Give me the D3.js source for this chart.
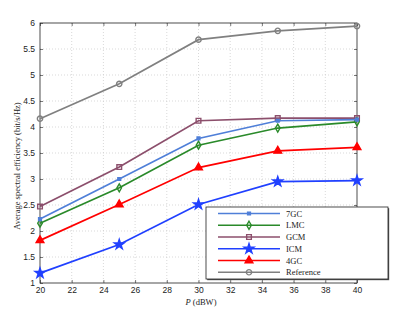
<!DOCTYPE html>
<html>
<head>
<meta charset="utf-8">
<script src="https://cdn.jsdelivr.net/npm/d3@7"></script>
<style>
  body { margin: 0; background: #fff; }
  svg { display: block; }
  .tick text { font-family: "Liberation Sans", Arial, sans-serif; font-size: 8.5px; fill: #222; }
  .serif { font-family: "Liberation Serif", "DejaVu Serif", serif; }
</style>
</head>
<body>
<svg id="chart" width="399" height="319"></svg>
<script>
const power = [20, 25, 30, 35, 40];
const xTicks = [20, 22, 24, 26, 28, 30, 32, 34, 36, 38, 40];
const yTicks = [1, 1.5, 2, 2.5, 3, 3.5, 4, 4.5, 5, 5.5, 6];

const names = ["7GC", "LMC", "GCM", "ICM", "4GC", "Reference"];
const val7GC = [2.23, 3.0, 3.78, 4.12, 4.14];
const valLMC = [2.15, 2.83, 3.65, 3.98, 4.10];
const valGCM = [2.47, 3.23, 4.12, 4.17, 4.17];
const valICM = [1.19, 1.74, 2.51, 2.95, 2.97];
const val4GC = [1.82, 2.51, 3.22, 3.54, 3.61];
const valRef = [4.16, 4.83, 5.68, 5.85, 5.94];

const colors = ["#4f7fd8", "#2a8a2a", "#8c4f6c", "#2040ff", "#ff0000", "#808080"];
const markers = ["smallsquare", "diamond", "square", "star", "triangle", "circle"];

const series = [val7GC, valLMC, valGCM, valICM, val4GC, valRef].map((v, i) => ({
    name: names[i], values: v, color: colors[i], marker: markers[i]
}));

const svg = d3.select("#chart");
const mLeft = 40, mRight = 357, mTop = 23, mBottom = 283;

const x = d3.scaleLinear().domain([20, 40]).range([mLeft, mRight]);
const y = d3.scaleLinear().domain([1, 6]).range([mBottom, mTop]);

// grid
const grid = svg.append("g");
grid.selectAll(".gx").data(xTicks.slice(1, -1)).join("line")
    .attr("x1", d => x(d)).attr("x2", d => x(d))
    .attr("y1", mTop).attr("y2", mBottom)
    .attr("stroke", "#c8c8c8").attr("stroke-width", 0.7).attr("stroke-dasharray", "1,2");
grid.selectAll(".gy").data(yTicks.slice(1, -1)).join("line")
    .attr("x1", mLeft).attr("x2", mRight)
    .attr("y1", d => y(d)).attr("y2", d => y(d))
    .attr("stroke", "#c8c8c8").attr("stroke-width", 0.7).attr("stroke-dasharray", "1,2");

// axes with inside ticks
svg.append("g").attr("transform", `translate(0,${mBottom})`)
    .call(d3.axisBottom(x).tickValues(xTicks).tickSize(-3).tickPadding(4).tickFormat(d3.format("d")));
svg.append("g").attr("transform", `translate(${mLeft},0)`)
    .call(d3.axisLeft(y).tickValues(yTicks).tickSize(-3).tickPadding(5).tickFormat(d => d));
svg.append("g").attr("transform", `translate(0,${mTop})`)
    .call(d3.axisTop(x).tickValues(xTicks).tickSize(-3).tickFormat(""));
svg.append("g").attr("transform", `translate(${mRight},0)`)
    .call(d3.axisRight(y).tickValues(yTicks).tickSize(-3).tickFormat(""));
svg.selectAll(".domain").remove();
svg.selectAll(".tick line").attr("stroke", "#222").attr("stroke-width", 0.6);

svg.append("rect")
    .attr("x", mLeft).attr("y", mTop)
    .attr("width", mRight - mLeft).attr("height", mBottom - mTop)
    .attr("fill", "none").attr("stroke", "#222").attr("stroke-width", 0.8);

function markerPath(type) {
    switch (type) {
        case "smallsquare": return d3.symbol(d3.symbolSquare, 8)();
        case "square": return d3.symbol(d3.symbolSquare, 22)();
        case "diamond": return "M0,-4L2.3,0L0,4L-2.3,0Z";
        case "star": return d3.symbol(d3.symbolStar, 30)();
        case "triangle": return d3.symbol(d3.symbolTriangle, 26)();
        case "circle": return d3.symbol(d3.symbolCircle, 22)();
    }
}

function drawMarker(g, s, cx, cy) {
    const filled = s.marker === "star" || s.marker === "triangle" || s.marker === "smallsquare";
    g.append("path")
        .attr("d", markerPath(s.marker))
        .attr("transform", `translate(${cx},${cy})`)
        .attr("fill", filled ? s.color : "none")
        .attr("stroke", s.color)
        .attr("stroke-width", 1.4);
}

const line = d3.line().x((d, i) => x(power[i])).y(d => y(d));

// draw in reverse so 7GC sits on top
const plot = svg.append("g");
series.slice().reverse().forEach(s => {
    const g = plot.append("g");
    g.append("path").datum(s.values)
        .attr("d", line)
        .attr("fill", "none")
        .attr("stroke", s.color)
        .attr("stroke-width", 1.7);
    s.values.forEach((v, i) => drawMarker(g, s, x(power[i]), y(v)));
});

// legend
const lg = svg.append("g");
const lx = 206, ly = 207, lw = 182, lh = 72;
lg.append("rect").attr("x", lx + 1.2).attr("y", ly + 1.2).attr("width", lw).attr("height", lh)
    .attr("fill", "#555");
lg.append("rect").attr("x", lx).attr("y", ly).attr("width", lw).attr("height", lh)
    .attr("fill", "#fff").attr("stroke", "#222").attr("stroke-width", 0.8);
series.forEach((s, i) => {
    const ry = 213.5 + i * 11.75;
    lg.append("line").attr("x1", 218).attr("x2", 280).attr("y1", ry).attr("y2", ry)
        .attr("stroke", s.color).attr("stroke-width", 1.7);
    drawMarker(lg, s, 249, ry);
    lg.append("text").attr("class", "serif")
        .attr("x", 286).attr("y", ry + 3)
        .attr("font-size", 8.5).attr("fill", "#222")
        .text(s.name);
});

// axis labels
const xl = svg.append("text").attr("class", "serif")
    .attr("x", 201).attr("y", 305)
    .attr("text-anchor", "middle").attr("font-size", 8.5).attr("fill", "#222");
xl.append("tspan").attr("font-style", "italic").text("P");
xl.append("tspan").text(" (dBW)");

svg.append("text").attr("class", "serif")
    .attr("transform", "translate(20,166) rotate(-90)")
    .attr("text-anchor", "middle").attr("font-size", 8.5).attr("fill", "#222")
    .text("Average spectral efficiency (bit/s/Hz)");
</script>
</body>
</html>
